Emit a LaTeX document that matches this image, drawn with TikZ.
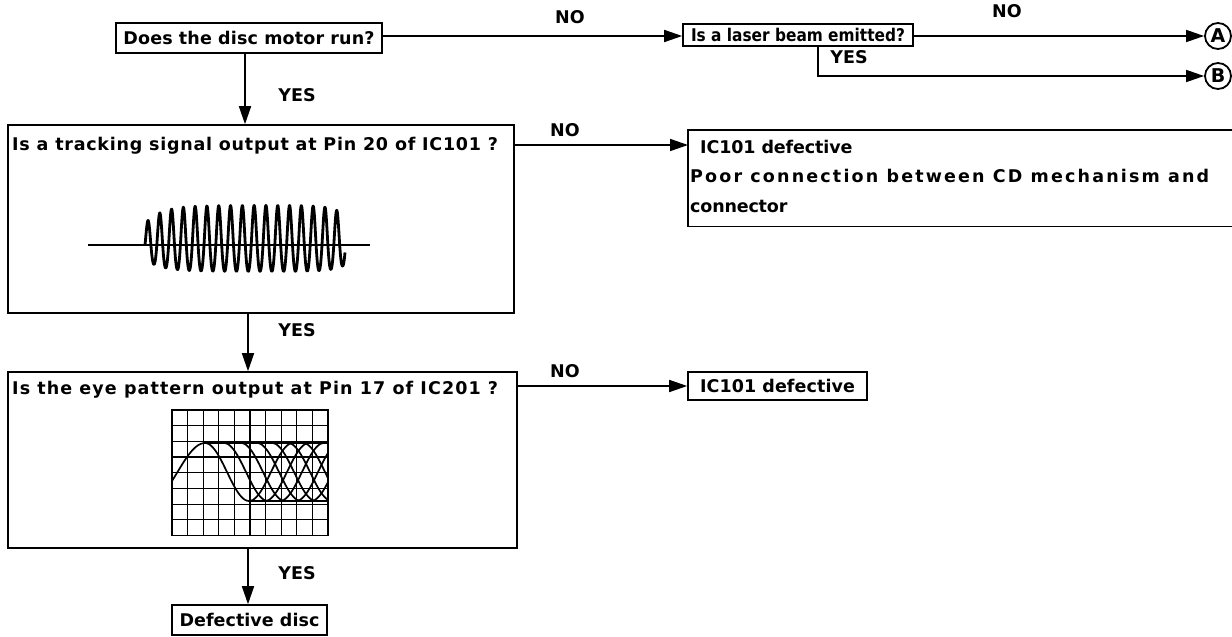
\documentclass[tikz,border=0pt]{standalone}
\usepackage{fontspec}
\setmainfont{DejaVu Sans}
\usetikzlibrary{arrows.meta,calc}
\newlength\natw
\newcommand\fitls[3]{\settowidth\natw{#3}\pgfmathsetmacro\lsv{(#1-\the\natw)/(#2*17.5)*100}{\addfontfeatures{LetterSpace=\lsv}#3}}
\newcommand\fitsc[2]{\resizebox{#1pt}{\height}{#2}}
\begin{document}
\begin{tikzpicture}[x=1pt,y=-1pt,
  box/.style={draw, line width=1.6pt, inner sep=0pt, anchor=center},
  txt/.style={font=\bfseries\fontsize{17.5}{21}\selectfont, inner sep=0pt},
  arr/.style={-{Triangle[length=18pt,width=12pt]}, line width=1.6pt},
  circ/.style={circle, draw, line width=1.8pt, minimum size=26pt, inner sep=0pt, font=\bfseries\fontsize{19}{19}\selectfont},
  grd/.style={line width=1pt},
  eye/.style={line width=1.7pt}]
\useasboundingbox (0,0) rectangle (1232,637);

% boxes
\node[box, txt, minimum width=266pt, minimum height=30pt] (b1) at (249,38) {\fitls{252}{24}{Does the disc motor run?}};
\node[box, txt, minimum width=230pt, minimum height=22pt] (b7) at (798,35) {\fitsc{214}{Is a laser beam emitted?}};
\node[circ] (A) at (1218,36) {A};
\node[circ] (B) at (1218,76) {B};

\node[box, minimum width=506pt, minimum height=188pt] (b2) at (261,219) {};
\node[txt, anchor=base west] (t2) at (12,150) {\fitls{494}{48}{Is a tracking signal output at Pin 20 of IC101 ?}};

\node[inner sep=0pt, minimum width=544pt, minimum height=96pt, anchor=north west] (b3) at (688,130) {};
\draw[line width=1.6pt] (b3.north east) -- (b3.north west) -- (b3.south west) -- (b3.south east);
\node[txt, anchor=base west] (t3a) at (700,153) {\fitls{152}{15}{IC101 defective}};
\node[txt, anchor=base west] (t3b) at (690,182) {\fitls{532}{40}{Poor connection between CD mechanism and}};
\node[txt, anchor=base west] (t3c) at (690,212) {\fitls{97}{9}{connector}};

\node[box, minimum width=509pt, minimum height=176pt] (b4) at (262.5,460) {};
\node[txt, anchor=base west] (t4) at (12,394) {\fitls{498}{46}{Is the eye pattern output at Pin 17 of IC201 ?}};

\node[box, txt, minimum width=179pt, minimum height=28pt] (b5) at (777.5,386) {\fitls{155}{15}{IC101 defective}};
\node[box, txt, minimum width=155pt, minimum height=30pt] (b6) at (249.5,620) {\fitls{140}{14}{Defective disc}};

% connectors
\coordinate (ay) at (0,36);
\coordinate (yx) at (818,0);
\coordinate (ny2) at (0,145);
\coordinate (c1) at (245,0);
\coordinate (c2) at (248,0);
\draw[arr] (b1.east |- ay) -- (b7.west |- ay);
\draw[arr] (b7.east |- A) -- (A.west);
\draw[arr] (b7.south -| yx) |- (B.west);
\draw[arr] (b1.south -| c1) -- (b2.north -| c1);
\draw[arr] (b2.east |- ny2) -- (b3.west |- ny2);
\draw[arr] (b2.south -| c2) -- (b4.north -| c2);
\draw[arr] (b4.east |- b5) -- (b5.west);
\draw[arr] (b4.south -| c2) -- (b6.north -| c2);

% labels
\node[txt] (l1) at (570,17) {NO};
\node[txt] (l2) at (1007,11) {NO};
\node[txt] (l3) at (849,57) {YES};
\node[txt] (l4) at (297,95) {YES};
\node[txt] (l5) at (565,130) {NO};
\node[txt] (l6) at (297,330) {YES};
\node[txt] (l7) at (565,371) {NO};
\node[txt] (l8) at (297,573) {YES};

% tracking waveform
\draw[line width=1.4pt] (88,245) -- (370,245);
\draw[line width=2.8pt, line join=round] plot[domain=0:200, samples=600]
  ({145+\x}, {245 - (33 - 15*exp(-0.06*\x) - 8*pow(\x/200,16))*sin(\x*30.508)*(1+0.2*sin(\x*30.508))});

% eye pattern
\foreach \i in {0,...,10} \draw[grd] ({172+15.6*\i},410) -- ({172+15.6*\i},535.6);
\foreach \j in {0,...,8} \draw[grd] (172,{410+15.7*\j}) -- (328,{410+15.7*\j});
\draw[line width=1.8pt] (250,410) -- (250,535.6);
\draw[line width=1.8pt] (172,457.1) -- (328,457.1);
\draw[line width=1.6pt] (172,410) rectangle (328,535.6);
\begin{scope}
\clip (172,410) rectangle (328,535.6);
\draw[eye] plot[domain=0:1,samples=25] ({150+55*\x},{472+29*cos(180*\x)});
\draw[eye] (205,443) -- (328,443);
\draw[eye] (250,501) -- (328,501);
\foreach \s in {205,224,241,257,272,288,303}
  \draw[eye] plot[domain=0:1,samples=25] ({\s+44*\x},{472-29*cos(180*\x)});
\foreach \s in {249,265,280,296,311}
  \draw[eye] plot[domain=0:1,samples=25] ({\s+44*\x},{472+29*cos(180*\x)});
\end{scope}
\end{tikzpicture}
\end{document}
